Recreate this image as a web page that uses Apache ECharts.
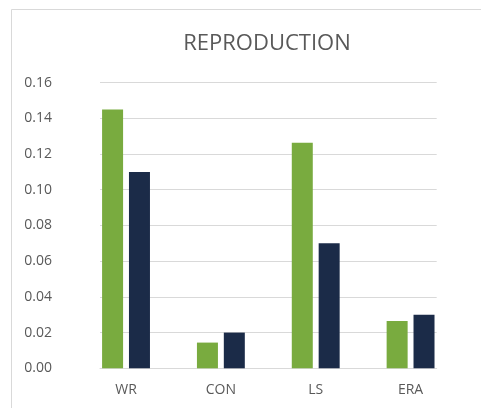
<!DOCTYPE html>
<html>
<head>
<meta charset="utf-8">
<title>REPRODUCTION</title>
<script src="https://cdn.jsdelivr.net/npm/echarts@6/dist/echarts.min.js"></script>
<style>
  html, body { margin: 0; padding: 0; background: #fff; }
  #reproChart { width: 481px; height: 408px; }
</style>
</head>
<body>
<div id="reproChart"></div>
<script>
// categories on the x axis
var categories = ['WR', 'CON', 'LS', 'ERA'];
// first series (green)
var greenValues = [0.145, 0.0144, 0.1263, 0.0265];
// second series (navy)
var navyValues = [0.110, 0.020, 0.070, 0.030];
// y axis range
var yMin = 0;
var yMax = 0.16;
var yStep = 0.02;

var chartDom = document.getElementById('reproChart');
var myChart = echarts.init(chartDom);

var labelColor = '#595959';
var lineColor = '#d9d9d9';
var fontFamily = '"Open Sans", sans-serif';

var option = {
  animation: false,
  backgroundColor: '#fff',
  title: {
    text: 'REPRODUCTION',
    left: 262,
    top: 28,
    textAlign: 'center',
    textStyle: {
      color: labelColor,
      fontSize: 22,
      fontWeight: 'normal',
      fontFamily: fontFamily
    }
  },
  // chart border (cut off on the right and bottom)
  graphic: [
    {
      type: 'polyline',
      shape: { points: [[11.5, 420], [11.5, 9.5], [490, 9.5]] },
      style: { stroke: lineColor, lineWidth: 1, fill: null },
      silent: true
    }
  ],
  grid: [
    // grid for the bars
    { left: 78.6, width: 379.4, top: 82.6, bottom: 39.7 },
    // grid only for the gridlines and y labels
    { left: 100, width: 336.7, top: 82.6, bottom: 39.7 }
  ],
  xAxis: [
    {
      gridIndex: 0,
      type: 'category',
      data: categories,
      axisLine: { show: false },
      axisTick: { show: false },
      axisLabel: {
        color: labelColor,
        fontSize: 14,
        fontFamily: fontFamily,
        margin: 15
      }
    },
    {
      gridIndex: 1,
      type: 'value',
      min: 0,
      max: 1,
      axisLine: { show: true, lineStyle: { color: lineColor, width: 1 } },
      axisTick: { show: false },
      axisLabel: { show: false },
      splitLine: { show: false }
    }
  ],
  yAxis: [
    {
      gridIndex: 0,
      type: 'value',
      min: yMin,
      max: yMax,
      interval: yStep,
      axisLine: { show: false },
      axisTick: { show: false },
      axisLabel: { show: false },
      splitLine: { show: false }
    },
    {
      gridIndex: 1,
      type: 'value',
      min: yMin,
      max: yMax,
      interval: yStep,
      axisLine: { show: false },
      axisTick: { show: false },
      axisLabel: {
        color: labelColor,
        fontSize: 14,
        fontFamily: fontFamily,
        margin: 48,
        formatter: function (v) { return v.toFixed(2); }
      },
      splitLine: { show: true, lineStyle: { color: lineColor, width: 1 } }
    }
  ],
  series: [
    {
      name: 'green',
      type: 'bar',
      xAxisIndex: 0,
      yAxisIndex: 0,
      data: greenValues,
      barWidth: 21,
      barGap: '28%',
      itemStyle: { color: '#79ab3f' }
    },
    {
      name: 'navy',
      type: 'bar',
      xAxisIndex: 0,
      yAxisIndex: 0,
      data: navyValues,
      barWidth: 21,
      barGap: '28%',
      itemStyle: { color: '#1b2b48' }
    }
  ]
};
option && myChart.setOption(option);
</script>
</body>
</html>
